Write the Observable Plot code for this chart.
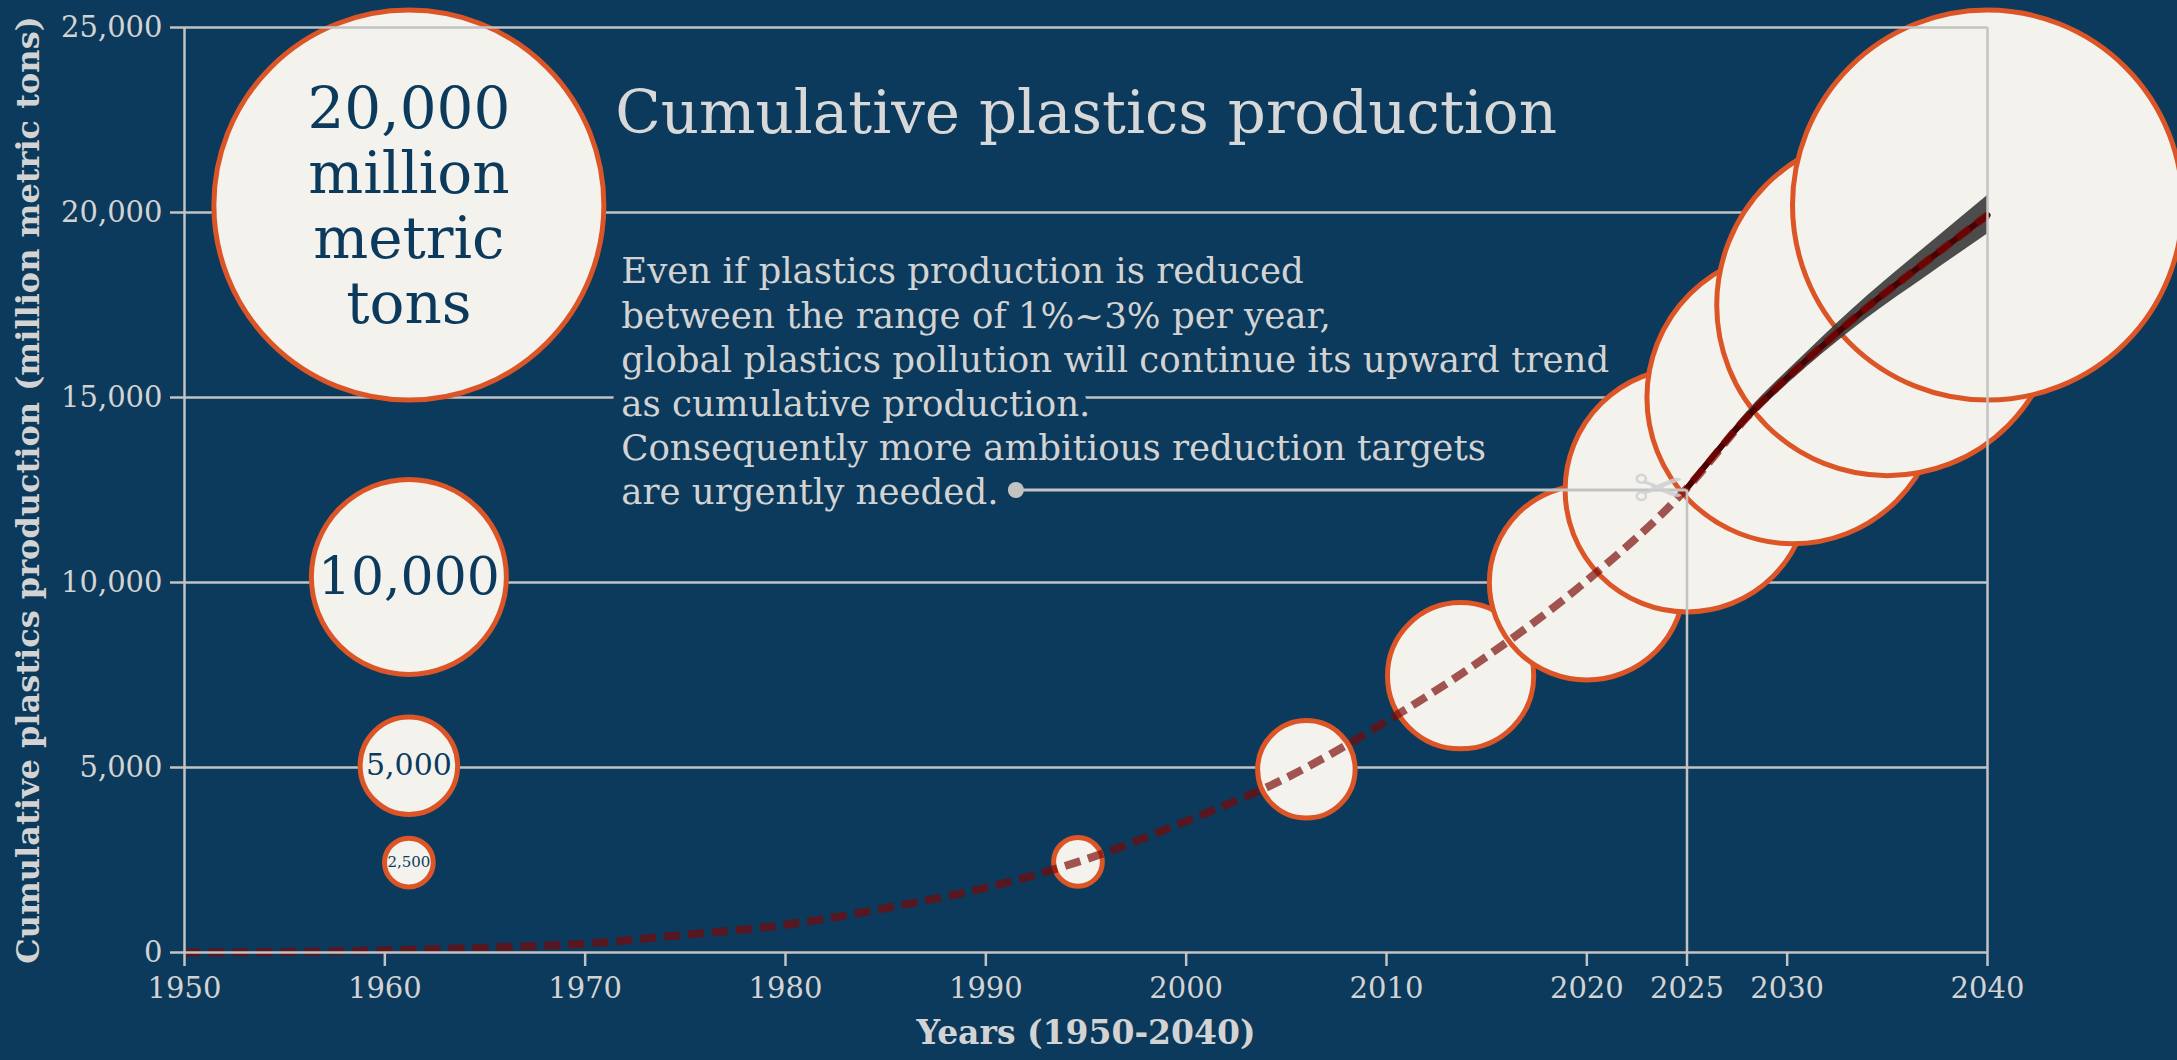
<!DOCTYPE html>
<html>
<head>
<meta charset="utf-8">
<script src="https://cdn.jsdelivr.net/npm/d3@7"></script>
<script src="https://cdn.jsdelivr.net/npm/@observablehq/plot@0.6"></script>
<style>
  html, body { margin: 0; padding: 0; background: #0b3a5c; }
  #chart svg { display: block; }
  g[aria-label="x-axis label"] { font-size: 33px; font-weight: bold; }
  g[aria-label="y-axis label"] { font-size: 32px; font-weight: bold; }
</style>
</head>
<body>
<div id="chart"></div>
<script>
// ---------- data ----------
const histYears  = [1950, 1955, 1960, 1965, 1970, 1975, 1980, 1985, 1990, 1995, 2000, 2005, 2010, 2015, 2020, 2025];
const histValues = [0, 15, 60, 130, 240, 480, 750, 1200, 1750, 2520, 3550, 4720, 6250, 8000, 10050, 12550];

const projYears = [2025, 2028, 2031, 2034, 2037, 2040];
const projMid   = [12550, 14470, 16030, 17440, 18700, 19930];
const projLow   = [12550, 14330, 15830, 17140, 18290, 19420];
const projHigh  = [12550, 14610, 16230, 17740, 19110, 20460];

const bubbleYears   = [1994.6, 2006, 2013.7, 2020, 2025, 2030.3, 2035, 2040];
const bubbleValues  = [2500, 5000, 7500, 10000, 12500, 15000, 17500, 20000];
const bubbleCenters = [2450, 4950, 7480, 10000, 12500, 15000, 17500, 20200];

const legendYear    = 1961.2;
const legendValues  = [20000, 10000, 5000, 2500];
const legendCenters = [20200, 10150, 5050, 2430];
const legendLabels  = ["20,000\nmillion\nmetric\ntons", "10,000", "5,000", "2,500"];

const xTicks = [1950, 1960, 1970, 1980, 1990, 2000, 2010, 2020, 2025, 2030, 2040];
const yTicks = [0, 5000, 10000, 15000, 20000, 25000];

const titleText = "Cumulative plastics production";
const noteLines = [
  "Even if plastics production is reduced",
  "between the range of 1%~3% per year,",
  "global plastics pollution will continue its upward trend",
  "as cumulative production.",
  "Consequently more ambitious reduction targets",
  "are urgently needed."
];
const xLabel = "Years (1950-2040)";
const yLabel = "Cumulative plastics production (million metric tons)";

// annotation anchors (data units)
const titleAnchor = {year: 1971.5, value: 22160};
const noteAnchor  = {year: 1971.8, value: 18930};
const cutPoint    = {year: 2025, value: 12500};
const leaderStart = {year: 1991.5, value: 12500};
const scissorsAt  = {year: 2023.6, value: 12500};

// ---------- tables ----------
const hist = histYears.map((year, i) => ({year, value: histValues[i]}));
const proj = projYears.map((year, i) => ({year, mid: projMid[i], low: projLow[i], high: projHigh[i]}));
const dashed = hist.concat(proj.slice(1).map(d => ({year: d.year, value: d.mid})));
const bubbles = bubbleYears.map((year, i) => ({year, value: bubbleValues[i], center: bubbleCenters[i]}));
const legend = legendValues.map((value, i) => ({year: legendYear, value, center: legendCenters[i], label: legendLabels[i]}));

// ---------- style ----------
const BG = "#0b3a5c";
const GRID = "#c3c3c3";
const TEXT = "#d3d3d3";
const FILL = "#f3f2ed";
const RING = "#dc5527";

const bubbleStyle = {x: "year", y: "center", r: "value", fill: FILL, stroke: RING, strokeWidth: 5, sort: null, ariaLabel: "bubble"};

const chart = Plot.plot({
  width: 2177,
  height: 1060,
  marginLeft: 184,
  marginRight: 190,
  marginTop: 27,
  marginBottom: 108,
  style: {background: BG, color: TEXT, fontFamily: "DejaVu Serif"},
  x: {domain: [1950, 2040]},
  y: {domain: [0, 25000]},
  r: {type: "linear", domain: [0, 20000], range: [0, 195]},
  marks: [
    Plot.gridY(yTicks.slice(1, -1), {stroke: GRID, strokeOpacity: 1, strokeWidth: 2.5}),
    Plot.text([noteLines.join("\n")], {
      x: () => noteAnchor.year, y: () => noteAnchor.value, text: d => d,
      textAnchor: "start", lineAnchor: "top", lineHeight: 1.24, fontSize: 35.6,
      fill: TEXT, stroke: BG, strokeWidth: 22, paintOrder: "stroke", strokeLinejoin: "round"
    }),
    Plot.text([titleText], {
      x: () => titleAnchor.year, y: () => titleAnchor.value, text: d => d,
      textAnchor: "start", lineAnchor: "bottom", fontSize: 59.5, fill: "#d8d8d8"
    }),
    // bubbles
    Plot.dot(legend, bubbleStyle),
    Plot.dot(bubbles, bubbleStyle),
    // legend labels
    Plot.text(legend.filter(d => d.value === 20000), {x: "year", y: "center", text: "label", fontSize: 58, lineHeight: 1.12, fill: BG}),
    Plot.text(legend.filter(d => d.value === 10000), {x: "year", y: "center", text: "label", fontSize: 52, fill: BG}),
    Plot.text(legend.filter(d => d.value === 5000), {x: "year", y: "center", text: "label", fontSize: 30, fill: BG}),
    Plot.text(legend.filter(d => d.value === 2500), {x: "year", y: "center", text: "label", fontSize: 15, fill: BG}),
    // projection band and lines
    Plot.areaY(proj, {x: "year", y1: "low", y2: "high", fill: "#3a3a3a", fillOpacity: 0.9, curve: "monotone-x"}),
    Plot.line(proj, {x: "year", y: "mid", stroke: "#4a0000", strokeWidth: 6, curve: "monotone-x"}),
    Plot.line(dashed, {x: "year", y: "value", stroke: "#7a0806", strokeOpacity: 0.68, strokeWidth: 8, strokeDasharray: "16,8", strokeLinecap: "butt", curve: "monotone-x"}),
    // frame
    Plot.ruleY([0, 25000], {stroke: GRID, strokeWidth: 2.5}),
    Plot.ruleX([1950, 2040], {stroke: GRID, strokeWidth: 2.5}),
    // cut crosshair and leader
    Plot.ruleX([cutPoint], {x: "year", y1: 0, y2: "value", stroke: GRID, strokeWidth: 2.5}),
    Plot.ruleY([cutPoint], {y: "value", x1: () => leaderStart.year, x2: "year", stroke: GRID, strokeWidth: 3}),
    Plot.dot([leaderStart], {x: "year", y: "value", r: 8, fill: GRID, stroke: null}),
    Plot.text(["\u2702"], {x: () => scissorsAt.year, y: () => scissorsAt.value, text: d => d, fontFamily: "DejaVu Sans", fontSize: 62, fill: "#cfcfcf", fillOpacity: 0.85}),
    // axes
    Plot.axisX({
      ticks: xTicks, tickFormat: d3.format("d"), tickSize: 14, tickPadding: 11, fontSize: 29,
      stroke: GRID, strokeWidth: 2.5, fill: TEXT,
      label: xLabel, labelAnchor: "center", labelOffset: 91, labelArrow: "none"
    }),
    Plot.axisY({
      ticks: yTicks, tickFormat: d3.format(","), tickSize: 14, tickPadding: 8, fontSize: 29,
      stroke: GRID, strokeWidth: 2.5, fill: TEXT,
      label: yLabel, labelAnchor: "center", labelOffset: 168, labelArrow: "none"
    })
  ]
});

// small notch at the top of each bubble ring
chart.querySelectorAll('g[aria-label="bubble"] circle').forEach(c => {
  const r = +c.getAttribute("r");
  const C = 2 * Math.PI * r;
  c.setAttribute("stroke-dasharray", `${0.75 * C - 1.5} 3 ${C}`);
});

document.getElementById("chart").appendChild(chart);
</script>
</body>
</html>
